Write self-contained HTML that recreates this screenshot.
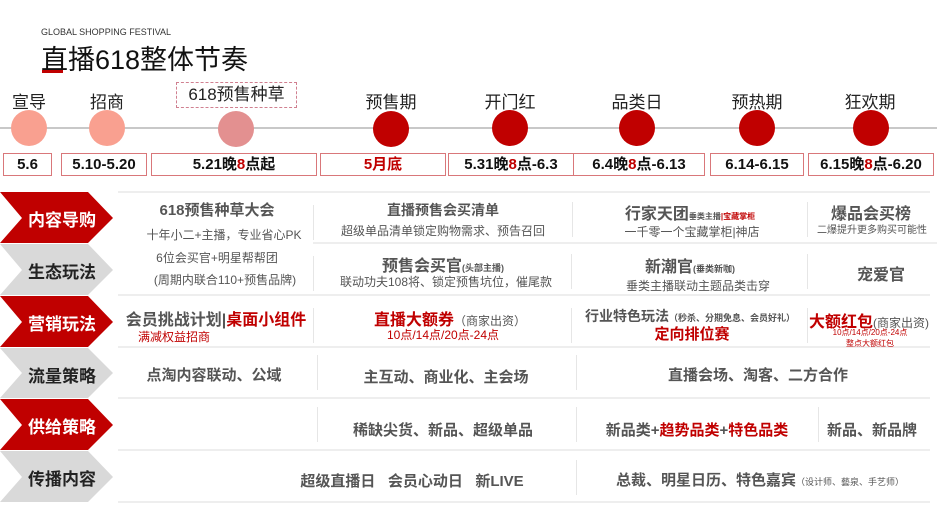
<!DOCTYPE html>
<html><head><meta charset="utf-8"><style>
*{margin:0;padding:0;box-sizing:border-box}
body{width:937px;height:513px;background:#fff;position:relative;overflow:hidden;font-family:"Liberation Sans","Noto Sans CJK SC",sans-serif;color:#222}
.a{position:absolute;white-space:nowrap}
.c{transform:translateX(-50%)}
.dot{position:absolute;width:36px;height:36px;border-radius:50%;background:#c00000;transform:translate(-50%,-50%)}
.lbl{position:absolute;font-size:17px;transform:translateX(-50%);top:88px;color:#222}
.db{position:absolute;top:153px;height:23px;border:1px solid #d9777a;font-weight:bold;font-size:15px;text-align:center;line-height:21px;color:#111}
.r{color:#c00000}
.g{color:#555}
.b{font-weight:bold}
.hl{position:absolute;left:118px;width:812px;height:2px;background:#eee}
.vl{position:absolute;width:1px;background:#e6e6e6}
.tag{position:absolute;left:0;width:114px}
.tag span{position:absolute;left:22px;width:80px;text-align:center;font-weight:bold;font-size:17px}
</style></head><body>
<div class="a" style="left:41px;top:27px;font-size:9px;color:#333">GLOBAL SHOPPING FESTIVAL</div>
<div class="a" style="left:41px;top:38px;font-size:27px;color:#111">直播618整体节奏</div>
<div class="a" style="left:42px;top:70px;width:21px;height:3px;background:#c00000"></div>

<div class="a" style="left:0;top:127px;width:937px;height:2px;background:#c8c8c8"></div>
<div class="dot" style="left:29px;top:128px;background:#f9a090"></div>
<div class="dot" style="left:107px;top:128px;background:#f9a090"></div>
<div class="dot" style="left:236px;top:129px;background:#e39090"></div>
<div class="dot" style="left:391px;top:129px"></div>
<div class="dot" style="left:510px;top:128px"></div>
<div class="dot" style="left:637px;top:128px"></div>
<div class="dot" style="left:757px;top:128px"></div>
<div class="dot" style="left:871px;top:128px"></div>

<div class="lbl" style="left:29px">宣导</div>
<div class="lbl" style="left:107px">招商</div>
<div class="a" style="left:176px;top:82px;width:121px;height:26px;border:1px dashed #d08090;font-size:17px;text-align:center;line-height:24px">618预售种草</div>
<div class="lbl" style="left:391px">预售期</div>
<div class="lbl" style="left:510px">开门红</div>
<div class="lbl" style="left:637px">品类日</div>
<div class="lbl" style="left:757px">预热期</div>
<div class="lbl" style="left:870px">狂欢期</div>

<div class="db" style="left:3px;width:49px">5.6</div>
<div class="db" style="left:61px;width:86px">5.10-5.20</div>
<div class="db" style="left:151px;width:166px">5.21晚<span class="r">8</span>点起</div>
<div class="db r" style="left:320px;width:126px">5月底</div>
<div class="db" style="left:448px;width:126px">5.31晚<span class="r">8</span>点-6.3</div>
<div class="db" style="left:573px;width:132px">6.4晚<span class="r">8</span>点-6.13</div>
<div class="db" style="left:710px;width:94px">6.14-6.15</div>
<div class="db" style="left:808px;width:126px">6.15晚<span class="r">8</span>点-6.20</div>

<div class="hl" style="top:191px"></div>
<div class="hl" style="top:242px;left:313px"></div>
<div class="hl" style="top:294px"></div>
<div class="hl" style="top:346px"></div>
<div class="hl" style="top:397px"></div>
<div class="hl" style="top:449px"></div>
<div class="hl" style="top:501px"></div>

<svg class="a" style="left:0;top:192px" width="116" height="312">
<polygon points="0,0 88,0 113,26 88,51 0,51 22,26" fill="#c00000"/>
<polygon points="0,52 88,52 113,78 88,103 0,103 22,78" fill="#d9d9d9"/>
<polygon points="0,104 88,104 113,130 88,155 0,155 22,130" fill="#c00000"/>
<polygon points="0,156 88,156 113,181 88,206 0,206 22,181" fill="#d9d9d9"/>
<polygon points="0,207 88,207 113,233 88,258 0,258 22,233" fill="#c00000"/>
<polygon points="0,259 88,259 113,285 88,310 0,310 22,285" fill="#d9d9d9"/>
</svg>
<div class="tag" style="top:206px"><span style="color:#fff">内容导购</span></div>
<div class="tag" style="top:258px"><span>生态玩法</span></div>
<div class="tag" style="top:310px"><span style="color:#fff">营销玩法</span></div>
<div class="tag" style="top:362px"><span>流量策略</span></div>
<div class="tag" style="top:413px"><span style="color:#fff">供给策略</span></div>
<div class="tag" style="top:465px"><span>传播内容</span></div>

<div class="vl" style="left:313px;top:205px;height:35px"></div>
<div class="vl" style="left:572px;top:202px;height:35px"></div>
<div class="vl" style="left:807px;top:202px;height:35px"></div>
<div class="vl" style="left:313px;top:256px;height:35px"></div>
<div class="vl" style="left:571px;top:254px;height:35px"></div>
<div class="vl" style="left:807px;top:254px;height:35px"></div>
<div class="vl" style="left:313px;top:308px;height:35px"></div>
<div class="vl" style="left:571px;top:308px;height:35px"></div>
<div class="vl" style="left:807px;top:308px;height:35px"></div>
<div class="vl" style="left:317px;top:355px;height:35px"></div>
<div class="vl" style="left:576px;top:355px;height:35px"></div>
<div class="vl" style="left:317px;top:407px;height:35px"></div>
<div class="vl" style="left:576px;top:407px;height:35px"></div>
<div class="vl" style="left:818px;top:407px;height:35px"></div>
<div class="vl" style="left:576px;top:460px;height:35px"></div>

<div class="a c g b" style="left:217px;top:199px;font-size:15px">618预售种草大会</div>
<div class="a c g" style="left:224px;top:226px;font-size:12px">十年小二+主播，专业省心PK</div>
<div class="a c g b" style="left:443px;top:200px;font-size:14px">直播预售会买清单</div>
<div class="a c g" style="left:443px;top:222px;font-size:12px">超级单品清单锁定购物需求、预告召回</div>
<div class="a c g b" style="left:690px;top:200px;font-size:16px">行家天团<span style="font-size:8px">垂类主播<span class="r">|宝藏掌柜</span></span></div>
<div class="a c g" style="left:692px;top:223px;font-size:12px">一千零一个宝藏掌柜|神店</div>
<div class="a c g b" style="left:871px;top:200px;font-size:16px">爆品会买榜</div>
<div class="a c g" style="left:872px;top:221px;font-size:10px">二爆提升更多购买可能性</div>

<div class="a c g" style="left:217px;top:249px;font-size:12px">6位会买官+明星帮帮团</div>
<div class="a c g" style="left:225px;top:271px;font-size:12px">(周期内联合110+预售品牌)</div>
<div class="a c g b" style="left:443px;top:252px;font-size:16px">预售会买官<span style="font-size:9px">(头部主播)</span></div>
<div class="a c g" style="left:446px;top:273px;font-size:12px">联动功夫108将、锁定预售坑位，催尾款</div>
<div class="a c g b" style="left:690px;top:253px;font-size:16px">新潮官<span style="font-size:9px">(垂类新咖)</span></div>
<div class="a c g" style="left:698px;top:277px;font-size:12px">垂类主播联动主题品类击穿</div>
<div class="a c g b" style="left:881px;top:261px;font-size:16px">宠爱官</div>

<div class="a c g b" style="left:216px;top:306px;font-size:16px">会员挑战计划|<span class="r">桌面小组件</span></div>
<div class="a r" style="left:138px;top:328px;font-size:12px">满减权益招商</div>
<div class="a c b r" style="left:450px;top:306px;font-size:16px">直播大额券<span class="g" style="font-weight:normal;font-size:12px">（商家出资）</span></div>
<div class="a c r" style="left:443px;top:326px;font-size:12px">10点/14点/20点-24点</div>
<div class="a c g b" style="left:690px;top:306px;font-size:14px">行业特色玩法<span style="font-size:9px">（秒杀、分期免息、会员好礼）</span></div>
<div class="a c r b" style="left:692px;top:323px;font-size:15px">定向排位赛</div>
<div class="a c b r" style="left:869px;top:308px;font-size:16px">大额红包<span class="g" style="font-weight:normal;font-size:12px">(商家出资)</span></div>
<div class="a c r" style="left:870px;top:327px;font-size:8px">10点/14点/20点-24点</div>
<div class="a c r" style="left:870px;top:338px;font-size:8px">整点大额红包</div>

<div class="a c g b" style="left:214px;top:364px;font-size:15px">点淘内容联动、公域</div>
<div class="a c g b" style="left:446px;top:366px;font-size:15px">主互动、商业化、主会场</div>
<div class="a c g b" style="left:758px;top:364px;font-size:15px">直播会场、淘客、二方合作</div>

<div class="a c g b" style="left:443px;top:419px;font-size:15px">稀缺尖货、新品、超级单品</div>
<div class="a c g b" style="left:697px;top:419px;font-size:15px">新品类+<span class="r">趋势品类</span>+<span class="r">特色品类</span></div>
<div class="a c g b" style="left:872px;top:419px;font-size:15px">新品、新品牌</div>

<div class="a c g b" style="left:412px;top:470px;font-size:15px">超级直播日&nbsp;&nbsp;&nbsp;会员心动日&nbsp;&nbsp;&nbsp;新LIVE</div>
<div class="a c g b" style="left:760px;top:469px;font-size:15px">总裁、明星日历、特色嘉宾<span style="font-weight:normal;font-size:9px">（设计师、藝泉、手艺师）</span></div>
</body></html>
